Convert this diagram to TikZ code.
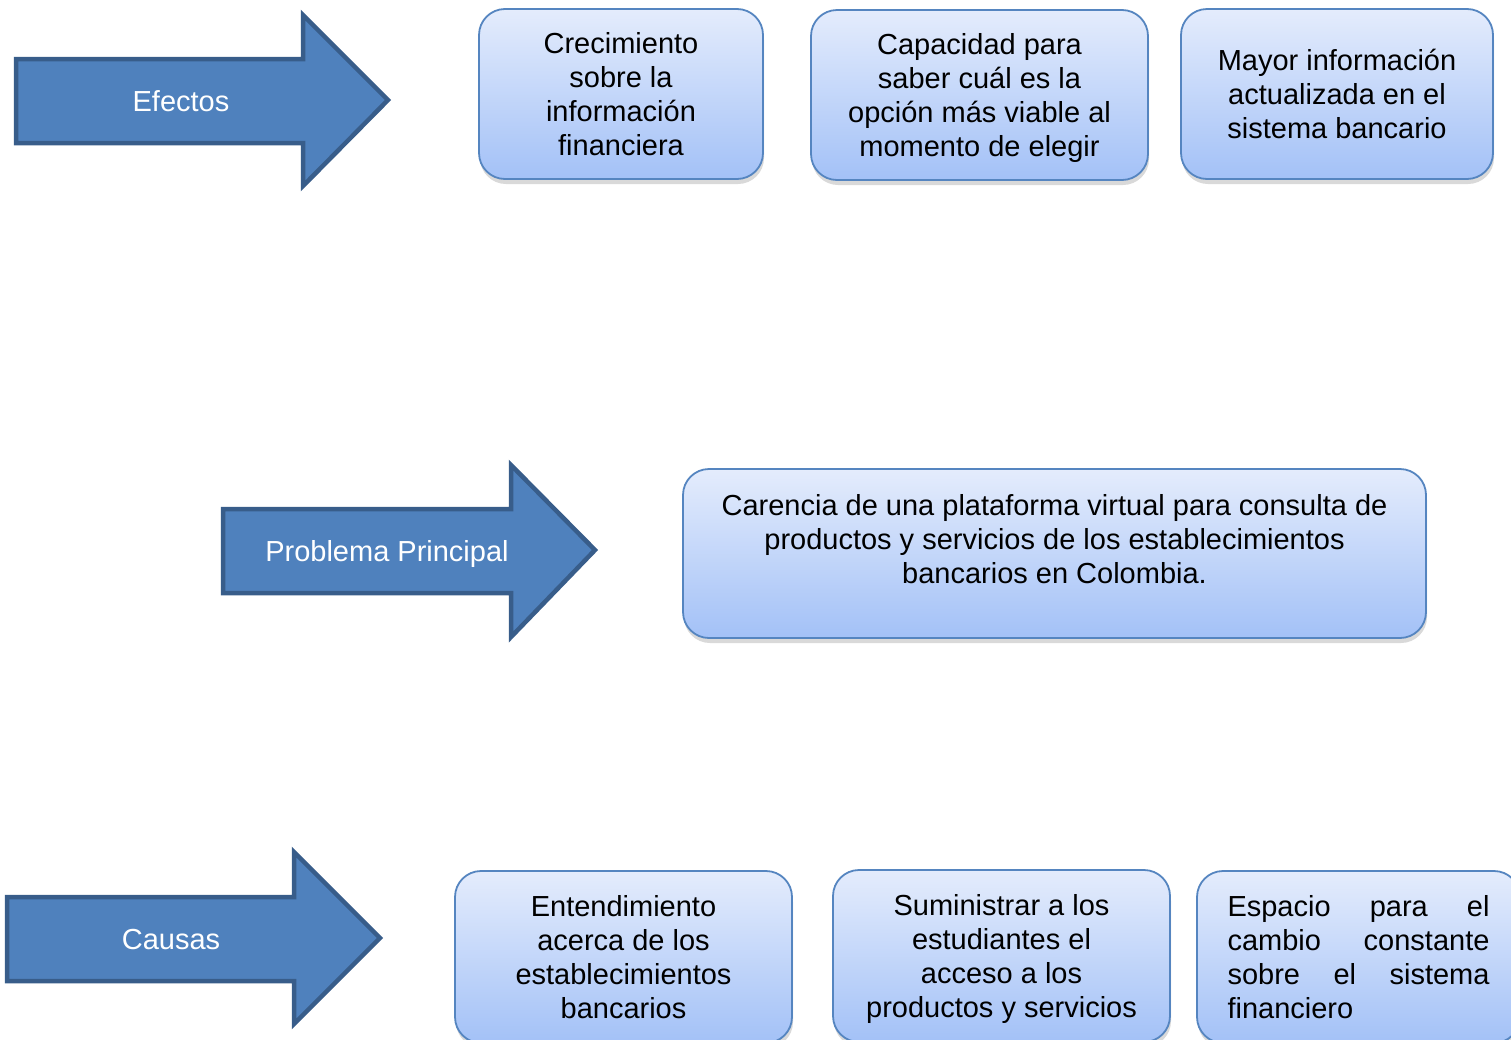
\documentclass[tikz,border=0pt]{standalone}
\usepackage{fontspec}
\setmainfont{Liberation Sans}
\usetikzlibrary{shadows}
\definecolor{flechaazul}{HTML}{4F81BD}
\definecolor{flechaborde}{HTML}{385D8A}
\definecolor{cajaborde}{HTML}{5585C0}
\definecolor{cajaarriba}{HTML}{E4ECFC}
\definecolor{cajaabajo}{HTML}{A3C1F7}
\tikzset{
  flecha/.style={fill=flechaazul,draw=flechaborde,line width=4.5pt,line join=miter},
  flechatxt/.style={text=white,font=\fontsize{29}{34}\selectfont,inner sep=0pt,text depth=0pt},
  caja/.style={draw=cajaborde,line width=1.8pt,rounded corners=26pt,
    top color=cajaarriba,bottom color=cajaabajo,align=center,
    font=\fontsize{29}{34}\selectfont,inner sep=0pt,text depth=0pt,
    drop shadow={shadow xshift=1pt,shadow yshift=-5pt,opacity=.3}}
}
\begin{document}
\begin{tikzpicture}[x=1pt,y=-1pt]
	\useasboundingbox (0,0) rectangle (1511,1039);
	\clip (0,0) rectangle (1511,1039);
	% flechas
	\draw[flecha] (16,59) -- (303,59) -- (303,15) -- (388,100) -- (303,186) -- (303,143) -- (16,143) -- cycle;
	\node[flechatxt] (efectos) at (181,101) {Efectos};
	\draw[flecha] (223,509) -- (511,509) -- (511,465) -- (595,550) -- (511,637) -- (511,593) -- (223,593) -- cycle;
	\node[flechatxt] (problema) at (387,551) {Problema Principal};
	\draw[flecha] (7,897) -- (294,897) -- (294,852) -- (380,938) -- (294,1024) -- (294,981) -- (7,981) -- cycle;
	\node[flechatxt] (causas) at (171,939) {Causas};
	% efectos
	\node[caja,minimum width=284pt,minimum height=170pt] (ef1) at (621,94) {Crecimiento\\sobre la\\información\\financiera};
	\node[caja,minimum width=337pt,minimum height=170pt] (ef2) at (979.5,95) {Capacidad para\\saber cuál es la\\opción más viable al\\momento de elegir};
	\node[caja,minimum width=312pt,minimum height=170pt] (ef3) at (1337,94) {Mayor información\\actualizada en el\\sistema bancario};
	% problema principal
	\node[caja,minimum width=743pt,minimum height=169pt] (prin) at (1054.5,553.5) {};
	\node[align=center,font=\fontsize{29}{34}\selectfont,inner sep=0pt,text depth=0pt] (printxt) at (1054.5,539) {Carencia de una plataforma virtual para consulta de\\productos y servicios de los establecimientos\\bancarios en Colombia.};
	% causas
	\node[caja,minimum width=337pt,minimum height=172pt] (ca1) at (623.5,957) {Entendimiento\\acerca de los\\establecimientos\\bancarios};
	\node[caja,minimum width=337pt,minimum height=172pt] (ca2) at (1001.5,956) {Suministrar a los\\estudiantes el\\acceso a los\\productos y servicios};
	\node[caja,minimum width=323pt,minimum height=172pt,align=left,text width=262pt,text depth=] (ca3) at (1358.5,957) {Espacio\hfill para\hfill el\\cambio\hfill constante\\sobre\hfill el\hfill sistema\\financiero};
\end{tikzpicture}
\end{document}
